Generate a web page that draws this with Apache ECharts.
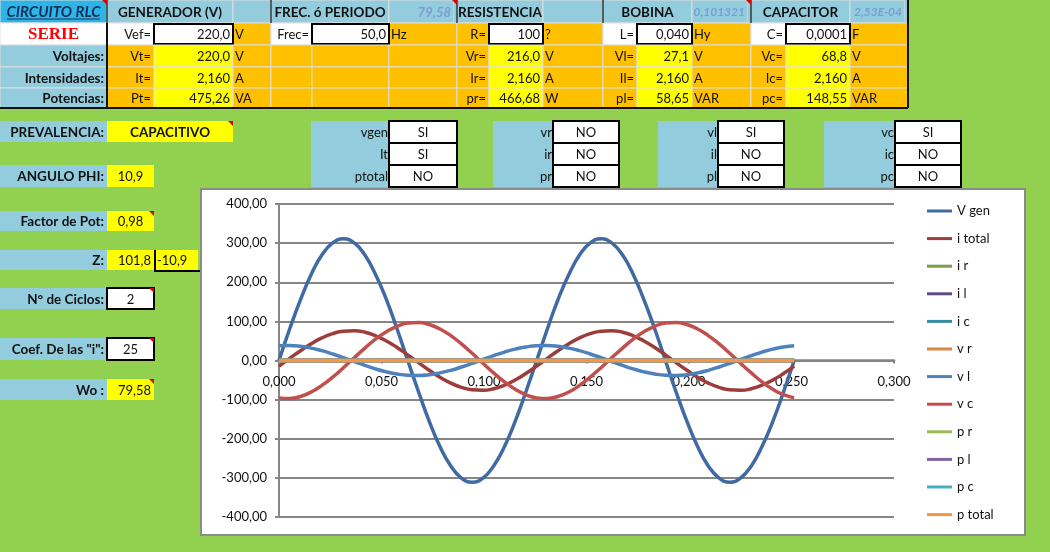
<!DOCTYPE html>
<html>
<head>
<meta charset="utf-8">
<script src="https://cdn.jsdelivr.net/npm/echarts@6/dist/echarts.min.js"></script>
<style>
html, body { margin: 0; padding: 0; background: #92D050; }
#main { width: 1050px; height: 552px; }
</style>
</head>
<body>
<div id="main"></div>
<script>
// tiempo (s), dos ciclos
var tiempo = [0, 0.0052, 0.0105, 0.0157, 0.0209, 0.0262, 0.0314, 0.0367, 0.0419, 0.0471, 0.0524, 0.0576,
    0.0628, 0.0681, 0.0733, 0.0785, 0.0838, 0.089, 0.0942, 0.0995, 0.1047, 0.11, 0.1152, 0.1204,
    0.1257, 0.1309, 0.1361, 0.1414, 0.1466, 0.1518, 0.1571, 0.1623, 0.1676, 0.1728, 0.178, 0.1833,
    0.1885, 0.1937, 0.199, 0.2042, 0.2094, 0.2147, 0.2199, 0.2251, 0.2304, 0.2356, 0.2409, 0.2461, 0.2513];
var vGen = [0, 80.5, 155.6, 220.0, 269.4, 300.5, 311.1, 300.5, 269.4, 220.0, 155.6, 80.5,
    0, -80.5, -155.6, -220.0, -269.4, -300.5, -311.1, -300.5, -269.4, -220.0, -155.6, -80.5,
    0, 80.5, 155.6, 220.0, 269.4, 300.5, 311.1, 300.5, 269.4, 220.0, 155.6, 80.5,
    0, -80.5, -155.6, -220.0, -269.4, -300.5, -311.1, -300.5, -269.4, -220.0, -155.6, -80.5, 0];
var iTotal = [-14.4, 5.5, 25.0, 42.8, 57.7, 68.7, 75.0, 76.2, 72.2, 63.2, 50.0, 33.4,
    14.4, -5.5, -25.0, -42.8, -57.7, -68.7, -75.0, -76.2, -72.2, -63.2, -50.0, -33.4,
    -14.4, 5.5, 25.0, 42.8, 57.7, 68.7, 75.0, 76.2, 72.2, 63.2, 50.0, 33.4,
    14.4, -5.5, -25.0, -42.8, -57.7, -68.7, -75.0, -76.2, -72.2, -63.2, -50.0, -33.4, -14.4];
var vL = [37.6, 38.2, 36.2, 31.7, 25.1, 16.7, 7.3, -2.7, -12.5, -21.5, -29.0, -34.5,
    -37.6, -38.2, -36.2, -31.7, -25.1, -16.7, -7.3, 2.7, 12.5, 21.5, 29.0, 34.5,
    37.6, 38.2, 36.2, 31.7, 25.1, 16.7, 7.3, -2.7, -12.5, -21.5, -29.0, -34.5,
    -37.6, -38.2, -36.2, -31.7, -25.1, -16.7, -7.3, 2.7, 12.5, 21.5, 29.0, 34.5, 37.6];
var vC = [-95.5, -97.1, -91.9, -80.6, -63.7, -42.5, -18.4, 7.0, 31.8, 54.6, 73.5, 87.5,
    95.5, 97.1, 91.9, 80.6, 63.7, 42.5, 18.4, -7.0, -31.8, -54.6, -73.5, -87.5,
    -95.5, -97.1, -91.9, -80.6, -63.7, -42.5, -18.4, 7.0, 31.8, 54.6, 73.5, 87.5,
    95.5, 97.1, 91.9, 80.6, 63.7, 42.5, 18.4, -7.0, -31.8, -54.6, -73.5, -87.5, -95.5];
// series desactivadas (NO) quedan en cero
var tPlano = [0, 0.2513];
var cero = [0, 0];

var nombres = ['V gen', 'i total', 'i r', 'i l', 'i c', 'v r', 'v l', 'v c', 'p r', 'p l', 'p c', 'p total'];
var colores = ['#3F6AA2', '#9D3D3A', '#7E9B46', '#5E4B7F', '#378CA0', '#DC8540',
    '#4F81BD', '#C0504D', '#9BBB59', '#8064A2', '#4BACC6', '#F79646'];
var yTicks = [-400, 400, 100];
var xTicks = [0, 0.3, 0.05];

// textos de la hoja
var cabecera = [[0, 1, 'CIRCUITO RLC'], [1, 3, 'GENERADOR (V)'], [3, 4, ''], [4, 6, 'FREC. ó PERIODO'], [6, 7, '79,58'],
    [7, 9, 'RESISTENCIA'], [9, 10, ''], [10, 12, 'BOBINA'], [12, 13, '0,101321'], [13, 15, 'CAPACITOR'], [15, 16, '2,53E-04']];
var fila1 = ['SERIE', 'Vef=', '220,0', 'V', 'Frec=', '50,0', 'Hz', 'R=', '100', '?', 'L=', '0,040', 'Hy', 'C=', '0,0001', 'F'];
var filas = [
    ['Voltajes:', 'Vt=', '220,0', 'V', '', '', '', 'Vr=', '216,0', 'V', 'Vl=', '27,1', 'V', 'Vc=', '68,8', 'V'],
    ['Intensidades:', 'It=', '2,160', 'A', '', '', '', 'Ir=', '2,160', 'A', 'Il=', '2,160', 'A', 'Ic=', '2,160', 'A'],
    ['Potencias:', 'Pt=', '475,26', 'VA', '', '', '', 'pr=', '466,68', 'W', 'pl=', '58,65', 'VAR', 'pc=', '148,55', 'VAR']
];
var etiquetas = ['PREVALENCIA:', 'ANGULO PHI:', 'Factor de Pot:', 'Z:', 'N° de Ciclos:', 'Coef. De las "i":', 'Wo :'];
var valores = ['CAPACITIVO', '10,9', '0,98', '101,8', '2', '25', '79,58'];
var anguloZ = '-10,9';
var selEtiq = [['vgen', 'It', 'ptotal'], ['vr', 'ir', 'pr'], ['vl', 'il', 'pl'], ['vc', 'ic', 'pc']];
var selVal = [['SI', 'SI', 'NO'], ['NO', 'NO', 'NO'], ['SI', 'NO', 'NO'], ['SI', 'NO', 'NO']];

var AZ = '#93CDDD', NAR = '#FFC000', AMA = '#FFFF00', BLA = '#FFFFFF';
var F = '13px Lato', FB = 'bold 13.5px Lato';

var g = [];
function caja(x0, y0, x1, y1, fill, stroke, lw) {
    g.push({type: 'rect', z: -10, silent: true, shape: {x: x0, y: y0, width: x1 - x0, height: y1 - y0},
        style: {fill: fill, stroke: stroke || null, lineWidth: lw || 0}});
}
function linea(x0, y0, x1, y1, color, lw) {
    g.push({type: 'line', z: -8, silent: true, shape: {x1: x0, y1: y0, x2: x1, y2: y1},
        style: {stroke: color, lineWidth: lw}});
}
function texto(x, y, s, align, font, color) {
    g.push({type: 'text', z: -7, silent: true, x: x, y: y,
        style: {text: s, align: align, verticalAlign: 'middle', font: font, fill: color || '#111'}});
}
function marca(x, y) {
    g.push({type: 'polygon', z: -6, silent: true, shape: {points: [[x - 5, y], [x, y], [x, y + 5]]},
        style: {fill: '#E00000'}});
}
function celda(x0, y0, x1, y1, fill, s, al, font, color) {
    caja(x0, y0, x1, y1, fill, '#dedede', 1);
    if (!s) return;
    var x = al === 'r' ? x1 - 3 : (al === 'l' ? x0 + 2 : (x0 + x1) / 2);
    texto(x, (y0 + y1) / 2 + 1, s, al === 'r' ? 'right' : (al === 'l' ? 'left' : 'center'), font, color);
}

// tabla superior
var cx = [0, 107, 154, 233, 271, 312, 389, 457, 489, 543, 603, 637, 692, 751, 786, 850, 908];
var fy = [0, 23, 45, 67, 88, 108];
cabecera.forEach(function (c) {
    var x0 = cx[c[0]], x1 = cx[c[1]];
    if (c[0] === 0) {
        celda(x0, 0, x1, fy[1], '#2DB5E8', c[2], 'c', 'italic bold 15px Lato', '#14305A');
        linea(7, 19, 100, 19, '#14305A', 1.2);
    } else if (/^[0-9]/.test(c[2])) {
        var fs = c[2].length > 5 ? 12 : 13;
        celda(x0, 0, x1 - 3, fy[1], AZ, c[2], 'r', 'italic bold ' + fs + 'px Lato', '#7B9CD6');
        caja(x1 - 3, 0, x1, fy[1], AZ);
    } else {
        celda(x0, 0, x1, fy[1], AZ, c[2], 'c', FB, '#111');
    }
});
[107, 271, 457, 603, 751].forEach(function (x) { linea(x, 0, x, fy[1], '#333', 1.5); });
[107, 457, 751].forEach(function (x) { marca(x, 0); });

var relleno1 = 'WWWOWWOOWOWWOWWO', alin1 = 'crrlrrlrrlrrlrrl';
var relleno = 'BOYOOOOOYOOYOOYO', alin = 'rrrllllrrlrrlrrl';
var mapa = {W: BLA, O: NAR, Y: AMA, B: AZ};
fila1.forEach(function (s, i) {
    if (i === 0) celda(cx[0], fy[1], cx[1], fy[2], BLA, s, 'c', 'bold 17px "Liberation Serif"', '#FF0000');
    else celda(cx[i], fy[1], cx[i + 1], fy[2], mapa[relleno1[i]], s, alin1[i], F);
});
[2, 5, 8, 11, 14].forEach(function (i) {
    caja(cx[i], fy[1] + 1, cx[i + 1], fy[2] - 1, 'rgba(0,0,0,0)', '#000', 2);
});
filas.forEach(function (fila, r) {
    fila.forEach(function (s, i) {
        celda(cx[i], fy[r + 2], cx[i + 1], fy[r + 3], mapa[relleno[i]], s, alin[i], i === 0 ? FB : F);
    });
});
linea(107, fy[1], 107, fy[5], '#111', 2);
linea(0, fy[5], 908, fy[5], '#111', 2);
linea(908, 0, 908, fy[5], '#111', 2);

// parametros de la izquierda
var bandas = [[121, 142], [165, 187], [211, 231], [250, 270], [288, 309], [338, 360], [379, 400]];
bandas.forEach(function (b, i) {
    caja(0, b[0], 107, b[1], AZ);
    texto(104, (b[0] + b[1]) / 2 + 1, etiquetas[i], 'right', FB);
    var x1 = i === 0 ? 233 : 154;
    var blanco = i === 4 || i === 5;
    caja(107, b[0], x1, b[1], blanco ? BLA : AMA, blanco ? '#000' : null, blanco ? 2 : 0);
    var al = (i === 3 || i === 6) ? 'right' : 'center';
    texto(al === 'right' ? x1 - 3 : (107 + x1) / 2, (b[0] + b[1]) / 2 + 1, valores[i], al, i === 0 ? FB : F);
    if (i !== 1 && i !== 3) marca(x1, b[0]);
});
caja(154, 250, 198, 270, AMA);
linea(155, 250, 155, 272, '#000', 2);
linea(155, 271, 200, 271, '#000', 2);
texto(157, 261, anguloZ, 'left', F);

// selectores SI / NO
var selX = [[311, 389, 457], [493, 553, 619], [658, 718, 784], [824, 895, 961]];
var selY = [121, 143, 165, 187];
selX.forEach(function (sx, k) {
    caja(sx[0], selY[0], sx[1], selY[3], AZ);
    for (var j = 0; j < 3; j++) {
        caja(sx[1], selY[j], sx[2], selY[j + 1], BLA, '#000', 2);
        texto(sx[1] - 1, (selY[j] + selY[j + 1]) / 2 + 1, selEtiq[k][j], 'right', F);
        texto((sx[1] + sx[2]) / 2, (selY[j] + selY[j + 1]) / 2 + 1, selVal[k][j], 'center', F);
    }
});

// marco del grafico
caja(201, 189, 1025, 535, '#FFFFFF', '#8A8A8A', 2);

function pares(xs, ys) {
    return xs.map(function (x, i) { return [x, ys[i]]; });
}
var datos = {
    'V gen': pares(tiempo, vGen),
    'i total': pares(tiempo, iTotal),
    'v l': pares(tiempo, vL),
    'v c': pares(tiempo, vC)
};

var series = nombres.map(function (n, i) {
    return {
        name: n,
        type: 'line',
        z: 3,
        smooth: true,
        showSymbol: false,
        color: colores[i],
        lineStyle: {width: 3.5, color: colores[i]},
        data: datos[n] || pares(tPlano, cero)
    };
});

var chart = echarts.init(document.getElementById('main'));
chart.setOption({
    backgroundColor: '#92D050',
    animation: false,
    textStyle: {fontFamily: 'Lato'},
    graphic: {elements: g},
    grid: {left: 279, top: 204, width: 615, height: 313},
    legend: {
        orient: 'vertical',
        left: 922,
        top: 199,
        icon: 'rect',
        itemWidth: 25,
        itemHeight: 3,
        itemGap: 13.6,
        textStyle: {fontSize: 13, lineHeight: 14, color: '#111', fontFamily: 'Lato'},
        data: nombres
    },
    xAxis: {
        type: 'value',
        position: 'bottom',
        offset: -156.5,
        z: 1,
        min: xTicks[0], max: xTicks[1], interval: xTicks[2],
        axisLine: {onZero: false, lineStyle: {color: '#868686', width: 2.5}},
        axisTick: {show: true, length: 3, lineStyle: {color: '#868686', width: 2}},
        axisLabel: {color: '#111', fontSize: 13, margin: 15,
            formatter: function (v) { return v.toFixed(3).replace('.', ','); }},
        splitLine: {show: false}
    },
    yAxis: {
        type: 'value',
        min: yTicks[0], max: yTicks[1], interval: yTicks[2],
        axisLine: {show: true, lineStyle: {color: '#868686', width: 2}},
        axisTick: {show: true, length: 4, lineStyle: {color: '#868686', width: 2}},
        axisLabel: {color: '#111', fontSize: 13, margin: 12,
            formatter: function (v) { return v.toFixed(2).replace('.', ','); }},
        splitLine: {lineStyle: {color: '#868686', width: 2}}
    },
    series: series
});
</script>
</body>
</html>
